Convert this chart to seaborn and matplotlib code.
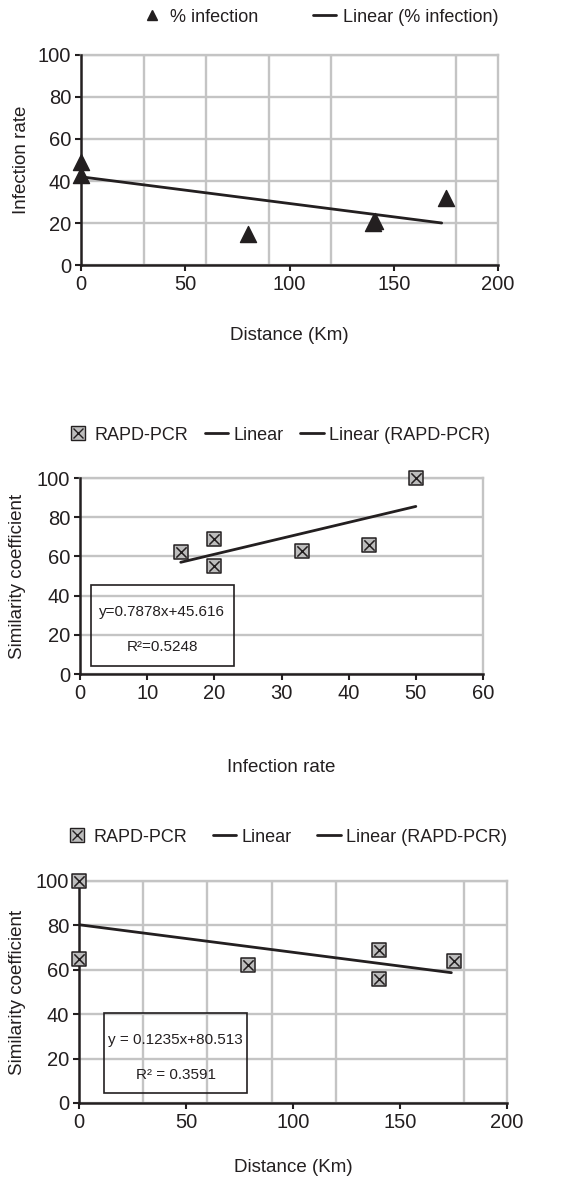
import matplotlib
matplotlib.use("Agg")
import matplotlib.pyplot as plt
import seaborn as sns
import pandas as pd
from matplotlib.lines import Line2D
from matplotlib.patches import Rectangle
from matplotlib.ticker import FixedLocator
from matplotlib.legend_handler import HandlerTuple


# Panel 1: distance vs infection rate
p1_distance = [0, 0, 80, 140, 141, 175]
p1_infection = [49, 43, 15, 20, 21, 32]
p1_trend_x = [0, 173]
p1_trend_y = [42, 20]

# Panel 2: infection rate vs similarity coefficient
p2_infection = [15, 20, 20, 33, 43, 50]
p2_similarity = [62, 69, 55, 63, 66, 100]
p2_trend_x = [15, 50]
p2_trend_y = [57, 85.5]
p2_equation = ["y=0.7878x+45.616", "R\u00b2=0.5248"]

# Panel 3: distance vs similarity coefficient
p3_distance = [0, 0, 79, 140, 140, 175]
p3_similarity = [100, 65, 62, 69, 56, 64]
p3_trend_x = [0, 174]
p3_trend_y = [80.3, 58.7]
p3_equation = ["y = 0.1235x+80.513", "R\u00b2 = 0.3591"]

distance_grid = [30, 50, 60, 90, 100, 120, 150, 180, 200]

W, H = 563, 1179
INK = "#231f20"
GRID = "#c4c4c4"
FILL = "#bdbdbd"

sns.set_style("white")
plt.rcParams["font.family"] = ["Liberation Sans", "DejaVu Sans"]
plt.rcParams["font.size"] = 13
plt.rcParams["text.color"] = INK
plt.rcParams["axes.labelcolor"] = INK
plt.rcParams["xtick.color"] = INK
plt.rcParams["ytick.color"] = INK

fig = plt.figure(figsize=(W / 100, H / 100), dpi=100)


def px_axes(left, top, right, bottom):
    return fig.add_axes([left / W, 1 - bottom / H, (right - left) / W, (bottom - top) / H])


def style_axes(ax, box, xmax, xticks, xgrid, xlabel, ylabel, xlabel_px, ylabel_px):
    left, top, right, bottom = box
    ax.set_xlim(0, xmax)
    ax.set_ylim(0, 100)
    ax.set_xticks(xticks)
    ax.set_yticks([0, 20, 40, 60, 80, 100])
    ax.xaxis.set_minor_locator(FixedLocator(xgrid))
    ax.grid(False)
    ax.grid(True, which="minor", axis="x", color=GRID, lw=1.7)
    ax.grid(True, which="major", axis="y", color=GRID, lw=1.7)
    ax.set_axisbelow(True)
    ax.tick_params(which="major", direction="out", length=4, width=1.5,
                   labelsize=14.5, pad=3, left=True, bottom=True)
    ax.tick_params(which="minor", length=0)
    for s in ["left", "bottom"]:
        ax.spines[s].set_color(INK)
        ax.spines[s].set_linewidth(1.8)
        ax.spines[s].set_zorder(5)
    for s in ["top", "right"]:
        ax.spines[s].set_color(GRID)
        ax.spines[s].set_linewidth(1.7)
    ax.set_xlabel(xlabel, fontsize=13.5)
    ax.set_ylabel(ylabel, fontsize=13.5)
    w = right - left
    h = bottom - top
    ax.xaxis.set_label_coords(0.5, -(xlabel_px - bottom) / h)
    ax.xaxis.label.set_va("center")
    ax.yaxis.set_label_coords(-(left - ylabel_px) / w, 0.5)
    ax.yaxis.label.set_va("center")
    ax.yaxis.label.set_ha("center")


def square_handle():
    sq = Line2D([], [], marker="s", ls="none", markersize=10, markerfacecolor=FILL,
                markeredgecolor=INK, markeredgewidth=1)
    xx = Line2D([], [], marker="x", ls="none", markersize=7, color=INK, markeredgewidth=1)
    return (sq, xx)


def line_handle():
    return Line2D([], [], color=INK, lw=2)


def square_points(ax, x, y):
    df = pd.DataFrame({"x": x, "y": y})
    sns.scatterplot(data=df, x="x", y="y", marker="s", s=115, color=FILL,
                    edgecolor=INK, linewidth=1.1, ax=ax, legend=False, clip_on=False, zorder=6)
    sns.scatterplot(data=df, x="x", y="y", marker="x", s=55, color=INK,
                    linewidth=1.1, ax=ax, legend=False, clip_on=False, zorder=7)


def trend(ax, x, y):
    sns.lineplot(x=x, y=y, color=INK, lw=2, ax=ax, legend=False, zorder=4)


def equation_box(ax, rect, lines, text_y):
    x0, y0, w, h = rect
    ax.add_patch(Rectangle((x0, y0), w, h, fill=False, edgecolor=INK, lw=1.2, zorder=8))
    for t, ty in zip(lines, text_y):
        ax.text(x0 + w / 2, ty, t, ha="center", va="center", fontsize=11, zorder=9)


# ---- Panel 1
box1 = (81, 55, 498, 265)
ax1 = px_axes(*box1)
df1 = pd.DataFrame({"Distance": p1_distance, "Infection": p1_infection})
sns.scatterplot(data=df1, x="Distance", y="Infection", marker="^", s=135, color=INK,
                edgecolor=INK, ax=ax1, legend=False, clip_on=False, zorder=6)
trend(ax1, p1_trend_x, p1_trend_y)
style_axes(ax1, box1, 200, [0, 50, 100, 150, 200], distance_grid,
           "Distance (Km)", "Infection rate", 335, 22)
tri = Line2D([], [], marker="^", ls="none", markersize=7, color=INK)
ax1.legend([tri, line_handle()], ["% infection", "Linear (% infection)"],
           ncol=2, frameon=False, fontsize=13, loc="center right",
           bbox_to_anchor=(498 / W, 1 - 17 / H), bbox_transform=fig.transFigure,
           borderaxespad=0, borderpad=0, columnspacing=3.0, handlelength=1.3,
           handletextpad=0.35)

# ---- Panel 2
box2 = (80, 478, 483, 674)
ax2 = px_axes(*box2)
square_points(ax2, p2_infection, p2_similarity)
trend(ax2, p2_trend_x, p2_trend_y)
style_axes(ax2, box2, 60, [0, 10, 20, 30, 40, 50, 60], [10, 20, 30, 40, 50, 60],
           "Infection rate", "Similarity coefficient", 767, 18)
equation_box(ax2, (1.6, 4.1, 21.3, 41.3), p2_equation, [31.6, 13.8])
ax2.legend([square_handle(), line_handle(), line_handle()],
           ["RAPD-PCR", "Linear", "Linear (RAPD-PCR)"],
           handler_map={tuple: HandlerTuple(ndivide=1)},
           ncol=3, frameon=False, fontsize=13, loc="center right",
           bbox_to_anchor=(490 / W, 1 - 435 / H), bbox_transform=fig.transFigure,
           borderaxespad=0, borderpad=0, columnspacing=0.9, handlelength=1.3,
           handletextpad=0.3)

# ---- Panel 3
box3 = (79, 881, 507, 1103)
ax3 = px_axes(*box3)
square_points(ax3, p3_distance, p3_similarity)
trend(ax3, p3_trend_x, p3_trend_y)
style_axes(ax3, box3, 200, [0, 50, 100, 150, 200], distance_grid,
           "Distance (Km)", "Similarity coefficient", 1168, 17)
equation_box(ax3, (11.7, 4.5, 66.8, 36), p3_equation, [28.4, 12.6])
ax3.legend([square_handle(), line_handle(), line_handle()],
           ["RAPD-PCR", "Linear", "Linear (RAPD-PCR)"],
           handler_map={tuple: HandlerTuple(ndivide=1)},
           ncol=3, frameon=False, fontsize=13, loc="center right",
           bbox_to_anchor=(507 / W, 1 - 837 / H), bbox_transform=fig.transFigure,
           borderaxespad=0, borderpad=0, columnspacing=1.4, handlelength=1.3,
           handletextpad=0.3)

fig.savefig("out.png", dpi=100, facecolor="white")
